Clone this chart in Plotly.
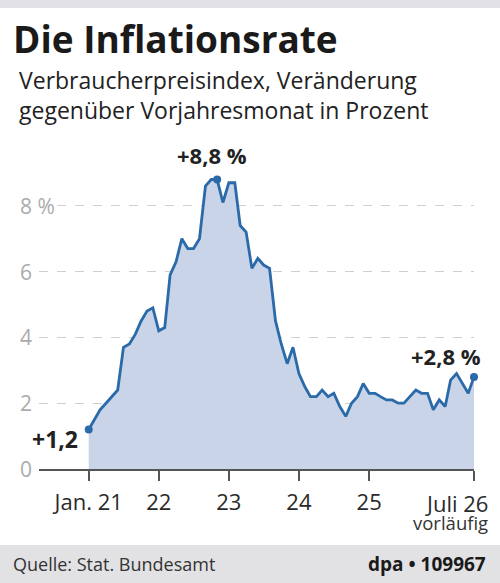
import pandas as pd
import plotly.graph_objects as go

# ---- data ----
start_month = "2021-01-01"
inflation = [
    1.2, 1.5, 1.8, 2.0, 2.2, 2.4, 3.7, 3.8, 4.1, 4.5, 4.8, 4.9,   # 2021
    4.2, 4.3, 5.9, 6.3, 7.0, 6.7, 6.7, 7.0, 8.6, 8.8, 8.8, 8.1,   # 2022
    8.7, 8.7, 7.4, 7.2, 6.1, 6.4, 6.2, 6.1, 4.5, 3.8, 3.2, 3.7,   # 2023
    2.9, 2.5, 2.2, 2.2, 2.4, 2.2, 2.3, 1.9, 1.6, 2.0, 2.2, 2.6,   # 2024
    2.3, 2.3, 2.2, 2.1, 2.1, 2.0, 2.0, 2.2, 2.4, 2.3, 2.3, 1.8,   # 2025
    2.1, 1.9, 2.7, 2.9, 2.6, 2.3, 2.8,                            # 2026
]
months = pd.date_range(start_month, periods=len(inflation), freq="MS")
highlight_idx = [0, 22, len(inflation) - 1]
x_tick_vals = ["2021-01-01", "2022-01-01", "2023-01-01", "2024-01-01", "2025-01-01", "2026-07-01"]
x_tick_text = ["Jan. 21", "22", "23", "24", "25", "Juli 26"]
y_tick_vals = [0, 2, 4, 6, 8]
y_tick_text = ["0", "2", "4", "6", "8 %"]

title = "Die Inflationsrate"
subtitle1 = "Verbraucherpreisindex, Veränderung"
subtitle2 = "gegenüber Vorjahresmonat in Prozent"
note = "vorläufig"
source = "Quelle: Stat. Bundesamt"
credit = "dpa • 109967"

# ---- geometry ----
W, H = 500, 583
ML, MR, MT, MB = 39, 26, 160, 114
PW, PH = W - ML - MR, H - MT - MB


def fx(px):
    return (px - ML) / PW


def fy(py):
    return (H - MB - py) / PH


LINE = "#2a6aa8"
FILL = "#c9d4e8"
FONT = "Open Sans"

fig = go.Figure()
fig.add_trace(go.Scatter(
    x=months, y=inflation, mode="lines",
    line=dict(color=LINE, width=2.8, shape="linear"),
    fill="tozeroy", fillcolor=FILL, cliponaxis=False,
    hoverinfo="skip",
))
fig.add_trace(go.Scatter(
    x=[months[i] for i in highlight_idx], y=[inflation[i] for i in highlight_idx],
    mode="markers", marker=dict(color=LINE, size=8), cliponaxis=False,
    hoverinfo="skip",
))


def fmt(v):
    return ("+%.1f" % v).replace(".", ",")


ann = []
# value labels
i0, ip, il = highlight_idx
ann.append(dict(x=months[i0], y=inflation[i0], text="<b>" + fmt(inflation[i0]) + "</b>",
                xanchor="right", yanchor="middle", xshift=-9, yshift=-9, showarrow=False,
                font=dict(family=FONT, size=23, color="#222")))
ann.append(dict(x=months[ip], y=inflation[ip], text="<b>" + fmt(inflation[ip]) + " %</b>",
                xanchor="center", yanchor="middle", xshift=-5, yshift=24, showarrow=False,
                font=dict(family=FONT, size=22, color="#222")))
ann.append(dict(x=months[il], y=inflation[il], text="<b>" + fmt(inflation[il]) + " %</b>",
                xanchor="right", yanchor="middle", xshift=9, yshift=21, showarrow=False,
                font=dict(family=FONT, size=22, color="#222")))

# y tick labels
for v, t in zip(y_tick_vals, y_tick_text):
    ann.append(dict(x=fx(17), xref="paper", y=v, yref="y", text=t, xanchor="left", yanchor="middle",
                    showarrow=False, bgcolor="white", borderpad=2,
                    font=dict(family=FONT, size=21, color="#ababab")))

# last x tick label (shifted left like the original)
ann.append(dict(x=fx(490), y=fy(503), xref="paper", yref="paper", text=x_tick_text[-1],
                xanchor="right", yanchor="middle", showarrow=False,
                font=dict(family=FONT, size=22, color="#2a2a2a")))

# titles
ann.append(dict(x=fx(11), y=fy(38), xref="paper", yref="paper", text="<b>" + title + "</b>",
                xanchor="left", yanchor="middle", showarrow=False,
                font=dict(family=FONT, size=37, color="#1a1a1a")))
ann.append(dict(x=fx(17), y=fy(80), xref="paper", yref="paper", text=subtitle1,
                xanchor="left", yanchor="middle", showarrow=False,
                font=dict(family=FONT, size=23, color="#222")))
ann.append(dict(x=fx(17), y=fy(110), xref="paper", yref="paper", text=subtitle2,
                xanchor="left", yanchor="middle", showarrow=False,
                font=dict(family=FONT, size=23, color="#222")))
ann.append(dict(x=fx(490), y=fy(522), xref="paper", yref="paper", text=note,
                xanchor="right", yanchor="middle", showarrow=False,
                font=dict(family=FONT, size=18.5, color="#333")))
ann.append(dict(x=fx(11), y=fy(564), xref="paper", yref="paper", text=source,
                xanchor="left", yanchor="middle", showarrow=False,
                font=dict(family=FONT, size=18, color="#333")))
ann.append(dict(x=fx(488), y=fy(564), xref="paper", yref="paper", text="<b>" + credit + "</b>",
                xanchor="right", yanchor="middle", showarrow=False,
                font=dict(family=FONT, size=19, color="#1a1a1a")))

shapes = [
    dict(type="rect", xref="paper", yref="paper", x0=fx(0), x1=fx(W), y0=fy(0), y1=fy(8),
         fillcolor="#e2e2e6", line=dict(width=0), layer="below"),
    dict(type="rect", xref="paper", yref="paper", x0=fx(0), x1=fx(W), y0=fy(545), y1=fy(583),
         fillcolor="#e2e2e4", line=dict(width=0), layer="below"),
]

fig.update_layout(
    width=W, height=H, margin=dict(l=ML, r=MR, t=MT, b=MB),
    paper_bgcolor="white", plot_bgcolor="white", showlegend=False,
    annotations=ann, shapes=shapes,
    xaxis=dict(
        range=["2020-04-17", "2026-07-01"], tickvals=x_tick_vals,
        ticktext=x_tick_text[:-1] + [""],
        showline=True, linecolor="#555", linewidth=1.5, ticks="outside", ticklen=10,
        tickcolor="#555", tickwidth=1.5, showgrid=False, zeroline=False,
        ticklabelstandoff=3,
        tickfont=dict(family=FONT, size=22, color="#2a2a2a"),
    ),
    yaxis=dict(
        range=[0, PH / 32.9], tickvals=y_tick_vals, showticklabels=False,
        showgrid=True, gridcolor="#cfcfcf", gridwidth=1, griddash="dash",
        zeroline=False, showline=False,
    ),
)

fig.write_html("out.html", config={"displayModeBar": False},
               post_script="document.body.style.margin='0';document.body.style.padding='0';")
